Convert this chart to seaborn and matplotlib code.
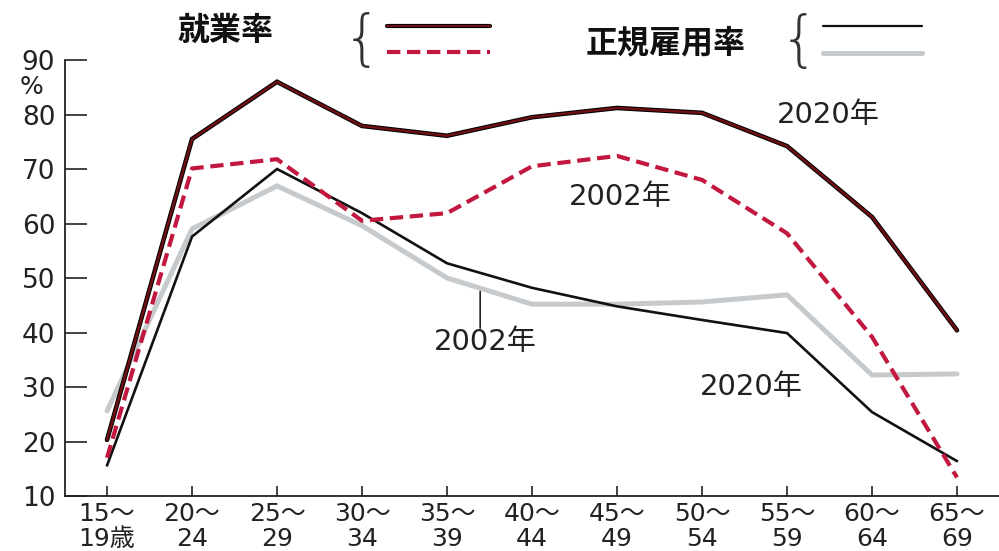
import numpy as np
import pandas as pd
import matplotlib
matplotlib.use("Agg")
import matplotlib.pyplot as plt
import matplotlib.patheffects as pe
from matplotlib.lines import Line2D
import seaborn as sns

# ---------------- data ----------------
age_top = ["15～", "20～", "25～", "30～", "35～", "40～", "45～", "50～", "55～", "60～", "65～"]
age_bottom = ["19歳", "24", "29", "34", "39", "44", "49", "54", "59", "64", "69"]
emp_2020 = [20.3, 75.5, 86.0, 77.9, 76.1, 79.5, 81.2, 80.3, 74.2, 61.2, 40.4]
emp_2002 = [17.0, 70.1, 71.8, 60.5, 61.9, 70.5, 72.4, 68.0, 58.2, 39.2, 13.4]
reg_2020 = [15.6, 57.6, 70.0, 61.9, 52.7, 48.2, 44.8, 42.3, 39.9, 25.4, 16.4]
reg_2002 = [25.6, 59.0, 66.9, 59.6, 50.0, 45.2, 45.2, 45.6, 46.9, 32.2, 32.4]
legend_emp = "就業率"
legend_reg = "正規雇用率"
year_labels = ["2020年", "2002年"]
yticks = [10, 20, 30, 40, 50, 60, 70, 80, 90]

# ---------------- style ----------------
sns.set_style("ticks")
plt.rcParams["font.family"] = ["DejaVu Sans", "Noto Sans CJK JP"]
plt.rcParams["axes.unicode_minus"] = False

fig = plt.figure(figsize=(9.99, 5.51), dpi=100)
ax = fig.add_axes([0.0651, 0.0998, 0.9349, 0.7913])

x = np.arange(len(age_top))
df = pd.DataFrame({"x": x, "emp_2020": emp_2020, "emp_2002": emp_2002,
                   "reg_2020": reg_2020, "reg_2002": reg_2002})

c_emp20 = "#6e0f14"
c_emp02 = "#c2183f"
c_reg20 = "#111111"
c_reg02 = "#c6cacd"

sns.lineplot(data=df, x="x", y="reg_2002", ax=ax, color=c_reg02, lw=3.6,
             solid_joinstyle="miter")
sns.lineplot(data=df, x="x", y="reg_2020", ax=ax, color=c_reg20, lw=1.9,
             solid_joinstyle="miter")
sns.lineplot(data=df, x="x", y="emp_2002", ax=ax, color=c_emp02, lw=3.0,
             dashes=False)
ax.lines[-1].set_dashes((3.2, 1.6))
sns.lineplot(data=df, x="x", y="emp_2020", ax=ax, color=c_emp20, lw=1.8,
             solid_joinstyle="miter",
             path_effects=[pe.Stroke(linewidth=3.3, foreground="black"), pe.Normal()])

# ---------------- axes ----------------
ax.set_xlim(-0.494, 10.494)
ax.set_ylim(10, 90)
ax.set_yticks(yticks)
ax.set_yticklabels([str(v) for v in yticks])
ax.set_xticks(x)
ax.set_xticklabels([f"{a}\n{b}" for a, b in zip(age_top, age_bottom)], linespacing=1.05)
ax.set_xlabel("")
ax.set_ylabel("")
for s in ["top", "right"]:
    ax.spines[s].set_visible(False)
for s in ["left", "bottom"]:
    ax.spines[s].set_color("#222222")
    ax.spines[s].set_linewidth(1.3)
ax.tick_params(axis="y", direction="in", length=16, width=1.2, pad=7,
               labelsize=19, colors="#222222")
ax.tick_params(axis="x", direction="in", length=7, width=1.2, pad=4,
               labelsize=18, colors="#222222")
ax.grid(False)

# percent sign under 90
ax.annotate("%", xy=(0, 85), xycoords=("axes fraction", "data"),
            xytext=(-34, 0), textcoords="offset pixels",
            ha="center", va="center", fontsize=18, color="#222222")

# ---------------- annotations ----------------
tk = dict(fontsize=21, color="#222222", ha="center", va="center",
          family=["DejaVu Sans", "Noto Sans CJK JP"])
ax.text(8.49, 79.9, year_labels[0], **tk)
ax.text(6.04, 64.9, year_labels[1], **tk)
ax.text(4.45, 38.3, year_labels[1], **tk)
ax.text(7.58, 30.0, year_labels[0], **tk)
xl = 4.39
ax.annotate("", xy=(xl, np.interp(xl, x, reg_2002) - 0.6), xytext=(xl, 40.8),
            arrowprops=dict(arrowstyle="-", color="#222222", lw=1.2,
                            shrinkA=0, shrinkB=0))

# ---------------- legend (manual, as in the original) ----------------
hk = dict(fontsize=23, fontweight="bold", color="#111111", ha="center", va="center",
          family=["Noto Sans CJK JP", "DejaVu Sans"])
fig.text(0.226, 0.944, legend_emp, **hk)
fig.text(0.666, 0.922, legend_reg, **hk)
bk = dict(fontsize=44, fontweight="light", color="#333333", ha="center", va="center",
          family=["DejaVu Sans"])
fig.text(0.362, 0.925, "{", **bk)
fig.text(0.800, 0.922, "{", **bk)

l1 = Line2D([0.387, 0.490], [0.953, 0.953], transform=fig.transFigure, color=c_emp20,
            lw=1.6, path_effects=[pe.Stroke(linewidth=3.0, foreground="black"), pe.Normal()])
l2 = Line2D([0.387, 0.490], [0.906, 0.906], transform=fig.transFigure, color=c_emp02,
            lw=3.0, dashes=(3.2, 1.6))
l3 = Line2D([0.824, 0.923], [0.953, 0.953], transform=fig.transFigure, color=c_reg20, lw=1.6)
l4 = Line2D([0.824, 0.923], [0.904, 0.904], transform=fig.transFigure, color=c_reg02, lw=3.6)
for l in (l1, l2, l3, l4):
    fig.add_artist(l)

fig.savefig("out.png", dpi=100)
